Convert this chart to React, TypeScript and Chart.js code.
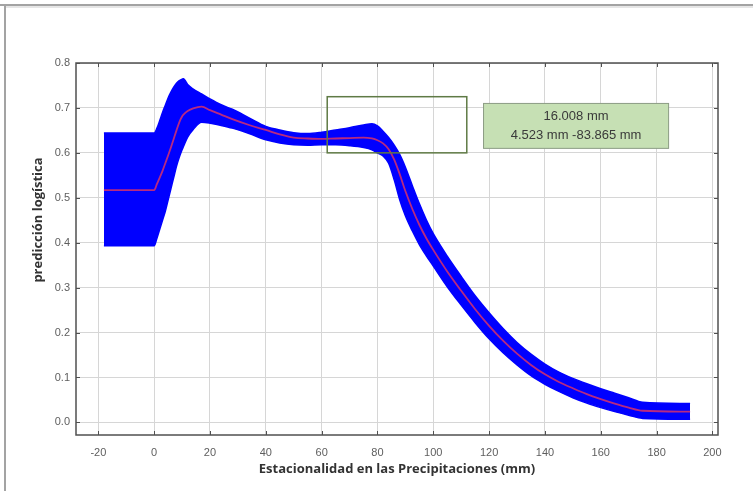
import React, { useEffect, useRef } from "react";
import { Chart, registerables } from "chart.js";

Chart.register(...registerables);

// ---- data ----
const X_VALUES = [
  -18, 0, 1, 2, 3, 4, 5, 6, 7, 8, 9, 10, 10.5, 12, 14, 17, 20, 24, 28, 34, 40, 45, 50, 55, 60, 65,
  70, 75, 78, 80, 82, 84, 86, 88, 90, 92.5, 95, 97.5, 100, 105, 110, 115, 120, 125, 130, 135, 140,
  145, 150, 155, 160, 165, 170, 175, 192,
];
const UPPER = [
  0.644, 0.644, 0.655, 0.672, 0.69, 0.706, 0.722, 0.735, 0.746, 0.755, 0.761, 0.764, 0.765, 0.752,
  0.742, 0.731, 0.72, 0.707, 0.697, 0.678, 0.659, 0.651, 0.645, 0.643, 0.646, 0.651, 0.656, 0.662,
  0.665, 0.66, 0.648, 0.634, 0.617, 0.596, 0.568, 0.527, 0.487, 0.451, 0.42, 0.37, 0.325, 0.282,
  0.244, 0.209, 0.178, 0.152, 0.13, 0.112, 0.098, 0.086, 0.075, 0.065, 0.055, 0.045, 0.042,
];
const CENTER = [
  0.517, 0.517, 0.531, 0.545, 0.56, 0.577, 0.594, 0.612, 0.631, 0.65, 0.668, 0.681, 0.685, 0.693,
  0.699, 0.703, 0.695, 0.685, 0.675, 0.662, 0.651, 0.641, 0.634, 0.632, 0.631, 0.632, 0.633, 0.634,
  0.632, 0.628, 0.621, 0.608, 0.585, 0.552, 0.515, 0.475, 0.44, 0.41, 0.384, 0.336, 0.293, 0.252,
  0.215, 0.182, 0.153, 0.128, 0.107, 0.09, 0.076, 0.063, 0.052, 0.042, 0.033, 0.026, 0.024,
];
const LOWER = [
  0.393, 0.393, 0.41, 0.43, 0.45, 0.47, 0.495, 0.52, 0.545, 0.57, 0.59, 0.607, 0.614, 0.635, 0.652,
  0.668, 0.666, 0.661, 0.655, 0.643, 0.629, 0.622, 0.618, 0.617, 0.618, 0.618, 0.616, 0.612, 0.607,
  0.6, 0.593, 0.577, 0.54, 0.495, 0.46, 0.426, 0.396, 0.371, 0.348, 0.302, 0.261, 0.222, 0.186,
  0.155, 0.128, 0.104, 0.085, 0.069, 0.055, 0.043, 0.033, 0.024, 0.016, 0.009, 0.007,
];
const X_TICKS = [-20, 0, 20, 40, 60, 80, 100, 120, 140, 160, 180, 200];
const Y_TICKS = [0, 0.1, 0.2, 0.3, 0.4, 0.5, 0.6, 0.7, 0.8];
const X_TITLE = "Estacionalidad en las Precipitaciones (mm)";
const Y_TITLE = "predicción logística";
const NOTE_LINES = ["16.008 mm", "4.523 mm -83.865 mm"];
// annotation rectangles, in data units
const SELECTION_BOX = { x0: 62, x1: 112, y0: 0.6, y1: 0.725 };
const NOTE_BOX = { x0: 118, x1: 184.3, y0: 0.61, y1: 0.71 };

const overlayPlugin = {
  id: "overlay",
  beforeDraw(chart: any) {
    const ctx = chart.ctx;
    ctx.save();
    ctx.fillStyle = "#ffffff";
    ctx.fillRect(0, 0, chart.width, chart.height);
    ctx.fillStyle = "#a3a3a3";
    ctx.fillRect(0, 4, chart.width, 2);
    ctx.fillRect(4, 4, 2, chart.height);
    ctx.fillStyle = "#e6e6e6";
    ctx.fillRect(6, 6, chart.width, 2);
    ctx.restore();
  },
  afterDatasetsDraw(chart: any) {
    const { ctx, chartArea: a, scales } = chart;
    const xs = scales.x;
    const ys = scales.y;
    ctx.save();
    // plot box
    ctx.strokeStyle = "#505050";
    ctx.lineWidth = 1.5;
    ctx.strokeRect(a.left, a.top, a.right - a.left, a.bottom - a.top);
    // inward tick marks
    ctx.lineWidth = 1;
    ctx.beginPath();
    X_TICKS.forEach((v) => {
      const p = Math.round(xs.getPixelForValue(v)) + 0.5;
      ctx.moveTo(p, a.bottom);
      ctx.lineTo(p, a.bottom - 4);
      ctx.moveTo(p, a.top);
      ctx.lineTo(p, a.top + 4);
    });
    Y_TICKS.forEach((v) => {
      const p = Math.round(ys.getPixelForValue(v)) + 0.5;
      ctx.moveTo(a.left, p);
      ctx.lineTo(a.left + 4, p);
      ctx.moveTo(a.right, p);
      ctx.lineTo(a.right - 4, p);
    });
    ctx.stroke();

    // selection rectangle
    const sx0 = xs.getPixelForValue(SELECTION_BOX.x0);
    const sx1 = xs.getPixelForValue(SELECTION_BOX.x1);
    const sy0 = ys.getPixelForValue(SELECTION_BOX.y1);
    const sy1 = ys.getPixelForValue(SELECTION_BOX.y0);
    ctx.strokeStyle = "#5f7a45";
    ctx.lineWidth = 1.5;
    ctx.strokeRect(sx0, sy0, sx1 - sx0, sy1 - sy0);

    // note box
    const nx0 = xs.getPixelForValue(NOTE_BOX.x0);
    const nx1 = xs.getPixelForValue(NOTE_BOX.x1);
    const ny0 = ys.getPixelForValue(NOTE_BOX.y1);
    const ny1 = ys.getPixelForValue(NOTE_BOX.y0);
    ctx.fillStyle = "#c6e0b4";
    ctx.fillRect(nx0, ny0, nx1 - nx0, ny1 - ny0);
    ctx.strokeStyle = "#8c9c84";
    ctx.lineWidth = 1;
    ctx.strokeRect(nx0, ny0, nx1 - nx0, ny1 - ny0);
    ctx.fillStyle = "#3a3a3a";
    ctx.font = "13px 'Liberation Sans', Arial, sans-serif";
    ctx.textAlign = "center";
    ctx.textBaseline = "middle";
    const cx = (nx0 + nx1) / 2;
    const h = ny1 - ny0;
    ctx.fillText(NOTE_LINES[0], cx, ny0 + h * 0.3);
    ctx.fillText(NOTE_LINES[1], cx, ny0 + h * 0.72);

    // y axis title
    ctx.translate(38, 220);
    ctx.rotate(-Math.PI / 2);
    ctx.fillStyle = "#333333";
    ctx.font = "bold 13px 'Open Sans', sans-serif";
    ctx.textAlign = "center";
    ctx.textBaseline = "middle";
    ctx.fillText(Y_TITLE, 0, 0);
    ctx.restore();
  },
};

export default function App() {
  const ref = useRef<HTMLCanvasElement | null>(null);
  useEffect(() => {
    if (!ref.current) return;
    const pts = (arr: number[]) => X_VALUES.map((x, i) => ({ x, y: arr[i] }));
    const tickFont = { family: "'Liberation Sans', Arial, sans-serif", size: 11 };
    const chart = new Chart(ref.current, {
      type: "line",
      data: {
        datasets: [
          {
            label: "upper",
            data: pts(UPPER),
            borderColor: "#0000ff",
            backgroundColor: "#0000ff",
            borderWidth: 1.5,
            pointRadius: 0,
            fill: "+1",
            order: 2,
            cubicInterpolationMode: "monotone",
          },
          {
            label: "lower",
            data: pts(LOWER),
            borderColor: "#0000ff",
            backgroundColor: "#0000ff",
            borderWidth: 1.5,
            pointRadius: 0,
            fill: false,
            order: 1,
            cubicInterpolationMode: "monotone",
          },
          {
            label: "center",
            data: pts(CENTER),
            borderColor: "#b82a80",
            borderWidth: 1.8,
            pointRadius: 0,
            fill: false,
            order: 0,
            cubicInterpolationMode: "monotone",
          },
        ],
      },
      options: {
        animation: false,
        responsive: false,
        devicePixelRatio: 1,
        layout: { padding: { left: 20, right: 35, top: 63, bottom: 6 } },
        plugins: { legend: { display: false }, tooltip: { enabled: false } },
        scales: {
          x: {
            type: "linear",
            min: -28,
            max: 202,
            afterBuildTicks: (s: any) => {
              s.ticks = X_TICKS.map((v) => ({ value: v }));
            },
            afterFit: (s: any) => {
              s.height = 50;
            },
            grid: { color: "#d6d6d6", lineWidth: 1, drawTicks: false },
            border: { display: false },
            ticks: { color: "#5e5e5e", font: tickFont, padding: 11, maxRotation: 0, autoSkip: false },
            title: {
              display: true,
              text: X_TITLE,
              color: "#333333",
              font: { family: "'Open Sans', sans-serif", size: 13, weight: "bold" },
              padding: { top: 0, bottom: 8 },
            },
          },
          y: {
            type: "linear",
            min: -0.028,
            max: 0.8,
            afterBuildTicks: (s: any) => {
              s.ticks = Y_TICKS.map((v) => ({ value: v }));
            },
            afterFit: (s: any) => {
              s.width = 56;
            },
            grid: { color: "#d6d6d6", lineWidth: 1, drawTicks: false },
            border: { display: false },
            ticks: {
              color: "#5e5e5e",
              font: tickFont,
              padding: 6,
              autoSkip: false,
              callback: (v: any) => Number(v).toFixed(1),
            },
          },
        },
      },
      plugins: [overlayPlugin],
    } as any);
    return () => chart.destroy();
  }, []);
  return (
    <div style={{ position: "fixed", left: 0, top: 0, width: 753, height: 491, background: "#fff" }}>
      <canvas ref={ref} width={753} height={491} style={{ display: "block" }} />
    </div>
  );
}
